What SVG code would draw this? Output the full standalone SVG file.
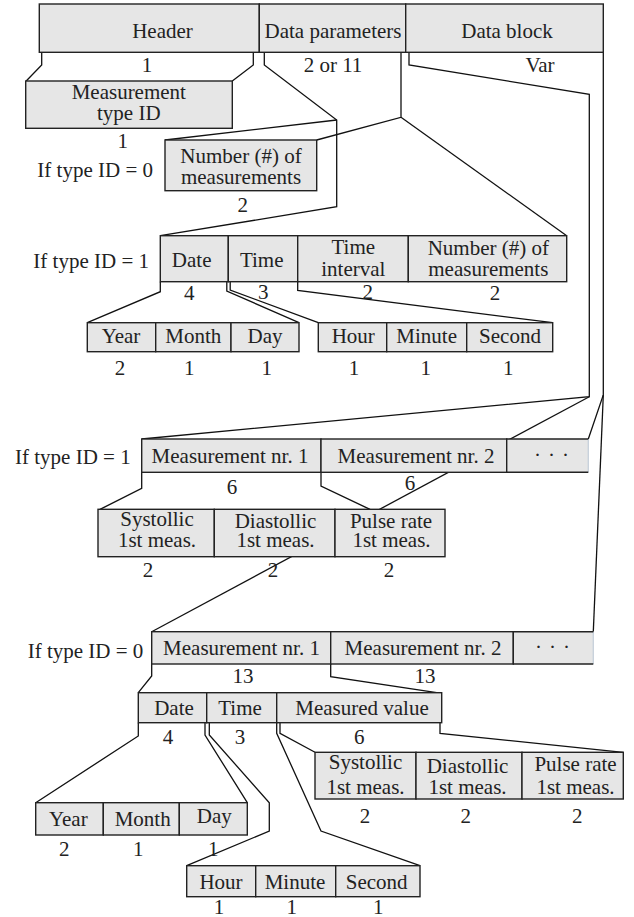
<svg xmlns="http://www.w3.org/2000/svg" width="634" height="917" viewBox="0 0 634 917">
<style>
.box{fill:#e6e6e6;stroke:#222;stroke-width:1.4}
.fill{fill:#e6e6e6;stroke:none}
.edge{fill:none;stroke:#222;stroke-width:1.4}
.light{fill:none;stroke:#c9d2dc;stroke-width:1.4}
.ln{fill:none;stroke:#111;stroke-width:1.3}
text{font-family:"Liberation Serif","Times New Roman",serif;font-size:21px;fill:#222;text-anchor:middle}
.end{text-anchor:end}
.dots{letter-spacing:0.9px}
</style>
<rect width="634" height="917" fill="#fff"/>
<g id="connectors">
<polyline class="ln" points="41.7,52.3 41.7,65 26.2,81"/>
<polyline class="ln" points="253.3,52.3 253.3,65 232.3,81"/>
<polyline class="ln" points="264.3,52.3 264.3,65 336.7,120 336.7,206.7 160.3,235.7"/>
<polyline class="ln" points="336.7,120 165,140"/>
<polyline class="ln" points="401,52.3 401,117.3 316.7,140"/>
<polyline class="ln" points="401,117.3 566.7,235.7"/>
<polyline class="ln" points="409,52.3 409,65 589.3,94.3 589.3,396.7 141.7,439"/>
<polyline class="ln" points="589.3,396.7 151.7,631.7"/>
<polyline class="ln" points="603.3,52.3 603.3,395 588.3,439"/>
<polyline class="ln" points="603.3,395 593.3,631.7"/>
<polyline class="ln" points="160.3,281.7 160.3,291.7 87.3,322.7"/>
<polyline class="ln" points="226.8,281.7 226.8,291 299,322.7"/>
<polyline class="ln" points="230.2,281.7 230.2,290 318.3,322.7"/>
<polyline class="ln" points="297.7,281.7 297.7,290.5 552.7,322.7"/>
<polyline class="ln" points="141.7,472.3 141.7,488.3 100,509.3"/>
<polyline class="ln" points="321,472.3 321,486 370,509.3"/>
<polyline class="ln" points="151.7,664 151.7,676 138.3,692.7"/>
<polyline class="ln" points="330.7,664 330.7,676.7 441.7,693.3"/>
<polyline class="ln" points="138.3,722.7 138.3,736 35.7,802.7"/>
<polyline class="ln" points="205,722.7 205,735 247.3,802.7"/>
<polyline class="ln" points="209.3,722.7 209.3,735 269.3,802.7 269.3,831 186.7,865.7"/>
<polyline class="ln" points="276.7,722.7 276.7,733.3 321,831 420,865.7"/>
<polyline class="ln" points="280,722.7 280,733.3 315,752.3"/>
<polyline class="ln" points="440,722.7 440,733.3 623.3,752.3"/>
</g>
<g id="header"><rect class="box" x="39.3" y="4" width="220" height="48.3"/><text x="162.5" y="38">Header</text></g>
<g id="data-parameters"><rect class="box" x="259.3" y="4" width="146.4" height="48.3"/><text x="333" y="38">Data parameters</text></g>
<g id="data-block"><rect class="box" x="405.7" y="4" width="197.6" height="48.3"/><text x="507" y="38">Data block</text></g>
<g id="top-sizes"><text x="147" y="72">1</text><text x="333" y="72">2 or 11</text><text x="540" y="72">Var</text></g>
<g id="measurement-type-id"><rect class="box" x="25.7" y="81" width="206.6" height="47.3"/><text x="128.8" y="99">Measurement</text><text x="128.8" y="120">type ID</text><text x="122.7" y="148">1</text></g>
<g id="label-type0-a"><text class="end" x="153" y="177">If type ID = 0</text></g>
<g id="num-meas-0"><rect class="box" x="165" y="140" width="151.7" height="50.7"/><text x="241" y="162.5">Number (#) of</text><text x="241" y="184">measurements</text><text x="242.7" y="212">2</text></g>
<g id="label-type1-a"><text class="end" x="149" y="268">If type ID = 1</text></g>
<g id="date1"><rect class="box" x="160.3" y="235.7" width="68" height="46"/><text x="191.7" y="266.7">Date</text><text x="189.3" y="300">4</text></g>
<g id="time1"><rect class="box" x="228.3" y="235.7" width="69.4" height="46"/><text x="261.7" y="266.7">Time</text><text x="263.3" y="298.5">3</text></g>
<g id="interval1"><rect class="box" x="297.7" y="235.7" width="110.6" height="46"/><text x="353.3" y="254">Time</text><text x="353.3" y="276">interval</text><text x="367.7" y="298.5">2</text></g>
<g id="num-meas-1"><rect class="box" x="408.3" y="235.7" width="158.4" height="46"/><text x="488.3" y="254.5">Number (#) of</text><text x="488.3" y="276">measurements</text><text x="495" y="300">2</text></g>
<g id="year1"><rect class="box" x="87.3" y="322.7" width="68.4" height="29"/><text x="121" y="343">Year</text><text x="120" y="375">2</text></g>
<g id="month1"><rect class="box" x="155.7" y="322.7" width="75.3" height="29"/><text x="193.3" y="343">Month</text><text x="189.3" y="375">1</text></g>
<g id="day1"><rect class="box" x="231" y="322.7" width="68" height="29"/><text x="265" y="343">Day</text><text x="266.7" y="375">1</text></g>
<g id="hour1"><rect class="box" x="318.3" y="322.7" width="68.4" height="29"/><text x="353.3" y="343">Hour</text><text x="354" y="375">1</text></g>
<g id="minute1"><rect class="box" x="386.7" y="322.7" width="80" height="29"/><text x="426.7" y="343">Minute</text><text x="425.7" y="375">1</text></g>
<g id="second1"><rect class="box" x="466.7" y="322.7" width="86" height="29"/><text x="510" y="343">Second</text><text x="508.3" y="375">1</text></g>
<g id="label-type1-b"><text class="end" x="130.7" y="464">If type ID = 1</text></g>
<g id="meas1-1"><rect class="box" x="141.7" y="439" width="179.3" height="33.3"/><text x="230" y="463">Measurement nr. 1</text><text x="232" y="494">6</text></g>
<g id="meas1-2"><rect class="box" x="321" y="439" width="185.7" height="33.3"/><text x="416" y="463">Measurement nr. 2</text><text x="410" y="490">6</text></g>
<g id="meas1-more"><rect class="fill" x="506.7" y="439" width="81.6" height="33.3"/><path class="light" d="M588.3,439V472.3"/><path class="edge" d="M588.3,439H506.7V472.3H588.3"/><text class="dots" x="552" y="462">· · ·</text></g>
<g id="sys1"><rect class="box" x="98" y="509.3" width="116.3" height="47.4"/><text x="157" y="526">Systollic</text><text x="157" y="546.5">1st meas.</text><text x="148" y="577">2</text></g>
<g id="dia1"><rect class="box" x="214.3" y="509.3" width="120.7" height="47.4"/><text x="275.5" y="528">Diastollic</text><text x="275.5" y="547">1st meas.</text><text x="273" y="577">2</text></g>
<g id="pulse1"><rect class="box" x="335" y="509.3" width="110" height="47.4"/><text x="391" y="528">Pulse rate</text><text x="391.5" y="547">1st meas.</text><text x="389" y="577">2</text></g>
<g id="label-type0-b"><text class="end" x="143.3" y="658">If type ID = 0</text></g>
<g id="meas0-1"><rect class="box" x="151.7" y="631.7" width="179" height="32.3"/><text x="241.5" y="655">Measurement nr. 1</text><text x="243" y="682.7">13</text></g>
<g id="meas0-2"><rect class="box" x="330.7" y="631.7" width="182.6" height="32.3"/><text x="423" y="655">Measurement nr. 2</text><text x="425" y="682.7">13</text></g>
<g id="meas0-more"><rect class="fill" x="513.3" y="631.7" width="80" height="32.3"/><path class="light" d="M593.3,631.7V664"/><path class="edge" d="M593.3,631.7H513.3V664H593.3"/><text class="dots" x="553" y="654">· · ·</text></g>
<g id="date0"><rect class="box" x="138.3" y="692.7" width="68.4" height="30"/><text x="174" y="715">Date</text><text x="168" y="744">4</text></g>
<g id="time0"><rect class="box" x="206.7" y="692.7" width="70" height="30"/><text x="240" y="715">Time</text><text x="240" y="744">3</text></g>
<g id="measured-value0"><rect class="box" x="276.7" y="692.7" width="165" height="30"/><text x="362" y="715">Measured value</text><text x="359.3" y="743.5">6</text></g>
<g id="sys0"><rect class="box" x="315" y="752.3" width="101" height="46.7"/><text x="365.5" y="768.5">Systollic</text><text x="365.5" y="794">1st meas.</text><text x="365" y="823.3">2</text></g>
<g id="dia0"><rect class="box" x="416" y="752.3" width="106" height="46.7"/><text x="467.5" y="773">Diastollic</text><text x="467.5" y="794">1st meas.</text><text x="465.7" y="823.3">2</text></g>
<g id="pulse0"><rect class="box" x="522" y="752.3" width="101.3" height="46.7"/><text x="575.5" y="771">Pulse rate</text><text x="575.5" y="794">1st meas.</text><text x="577.3" y="823.3">2</text></g>
<g id="year0"><rect class="box" x="35.7" y="802.7" width="67.6" height="32.3"/><text x="68.3" y="826">Year</text><text x="64.3" y="856">2</text></g>
<g id="month0"><rect class="box" x="103.3" y="802.7" width="76" height="32.3"/><text x="142.7" y="826">Month</text><text x="138.3" y="856">1</text></g>
<g id="day0"><rect class="box" x="179.3" y="802.7" width="68" height="32.3"/><text x="214.3" y="823">Day</text><text x="213.3" y="856">1</text></g>
<g id="hour0"><rect class="box" x="186.7" y="865.7" width="69" height="31"/><text x="221" y="888.5">Hour</text><text x="219" y="913.5">1</text></g>
<g id="minute0"><rect class="box" x="255.7" y="865.7" width="80" height="31"/><text x="295" y="888.5">Minute</text><text x="291.7" y="913.5">1</text></g>
<g id="second0"><rect class="box" x="335.7" y="865.7" width="84.3" height="31"/><text x="376.7" y="888.5">Second</text><text x="378.3" y="913.5">1</text></g>
</svg>
